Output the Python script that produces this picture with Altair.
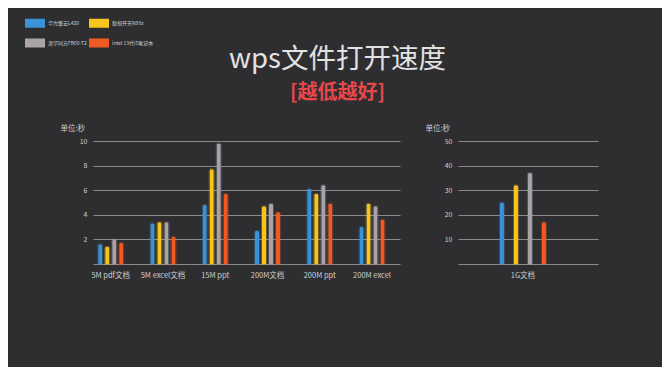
import altair as alt
import pandas as pd

categories = ["5M pdf文档", "5M excel文档", "15M ppt", "200M文档", "200M ppt", "200M excel"]
series = ["华为擎云L420", "联想开天N80z", "清华同方FB60-T2", "intel 13代i5笔记本"]
colors = ["#3a93d6", "#f7c51e", "#aaa3a8", "#f15a22"]

huawei = [1.6, 3.3, 4.8, 2.7, 6.1, 3.0]
lenovo = [1.4, 3.4, 7.7, 4.7, 5.7, 4.9]
tongfang = [2.0, 3.4, 9.8, 4.9, 6.4, 4.7]
intel = [1.7, 2.2, 5.7, 4.2, 4.9, 3.6]

big_categories = ["1G文档"]
big_huawei = [25]
big_lenovo = [32]
big_tongfang = [37]
big_intel = [17]

left_ticks = [0, 2, 4, 6, 8, 10]
right_ticks = [0, 10, 20, 30, 40, 50]


def long_table(cats, cols):
    rows = []
    for i, c in enumerate(cats):
        for s, vals in zip(series, cols):
            rows.append({"cat": c, "series": s, "value": vals[i]})
    return pd.DataFrame(rows)


df_small = long_table(categories, [huawei, lenovo, tongfang, intel])
df_big = long_table(big_categories, [big_huawei, big_lenovo, big_tongfang, big_intel])

FONT = "Noto Sans CJK SC"
LABEL = "#cfcfcf"
GRID = "#8a8a8a"


def y_axis(ticks):
    return alt.Axis(
        values=ticks,
        labelExpr="datum.value == 0 ? '' : datum.label",
        title="单位:秒",
        titleAngle=0,
        titleX=-33,
        titleY=-11,
        titleAlign="left",
        titleBaseline="alphabetic",
        titleFontSize=7.5,
        titleFontWeight="normal",
        titleColor=LABEL,
        titleFont=FONT,
        labelFontSize=7,
        labelColor=LABEL,
        labelFont=FONT,
        labelPadding=6,
        ticks=False,
        domain=False,
        grid=True,
        gridColor=GRID,
        gridWidth=1,
    )


def x_axis():
    return alt.Axis(
        title=None,
        labelAngle=0,
        ticks=False,
        domain=False,
        labelPadding=7,
        labelFontSize=7.5,
        labelColor=LABEL,
        labelFont=FONT,
    )


def bars(df, cats, ticks, dom, xscale, width, with_legend):
    if with_legend:
        legend = alt.Legend(
            title=None,
            orient="none",
            legendX=-68,
            legendY=-128,
            columns=2,
            direction="horizontal",
            symbolType="M-1,-0.45H1V0.45H-1Z",
            symbolSize=400,
            symbolStrokeWidth=0,
            labelFontSize=5,
            labelColor=LABEL,
            labelFont=FONT,
            labelOffset=3,
            columnPadding=2,
            rowPadding=5,
        )
    else:
        legend = None
    return alt.Chart(df).mark_bar(
        width=4,
        cornerRadiusTopLeft=2,
        cornerRadiusTopRight=2,
        strokeWidth=2,
        strokeOpacity=0.3,
    ).encode(
        x=alt.X("cat:N", sort=cats, scale=xscale, axis=x_axis()),
        xOffset=alt.XOffset("series:N", sort=series),
        y=alt.Y("value:Q", scale=alt.Scale(domain=dom), axis=y_axis(ticks)),
        color=alt.Color("series:N", sort=series,
                        scale=alt.Scale(domain=series, range=colors), legend=legend),
        stroke=alt.Stroke("series:N", sort=series,
                          scale=alt.Scale(domain=series, range=colors), legend=None),
    ).properties(width=width, height=123)


left = bars(df_small, categories, left_ticks, [0, 10],
            alt.Scale(paddingInner=0.464, paddingOuter=0.169, align=0.21), 307, True)
right = bars(df_big, big_categories, right_ticks, [0, 50],
             alt.Scale(paddingInner=0, paddingOuter=0.75, align=0.44), 140, False)

chart = alt.hconcat(left, right, spacing=58, bounds="flush").resolve_scale(
    color="independent", stroke="independent", xOffset="independent"
).properties(
    title=alt.TitleParams(
        "wps文件打开速度",
        subtitle="[越低越好]",
        font=FONT,
        fontSize=27.5,
        fontWeight="normal",
        color="#e2e2e2",
        subtitleFont=FONT,
        subtitleFontSize=20,
        subtitleFontWeight="bold",
        subtitleColor="#e8474b",
        subtitlePadding=10,
        anchor="middle",
        dx=26,
        offset=-90,
    ),
    background="#2e2e31",
    padding={"left": 17, "top": 5, "right": 64, "bottom": 88},
).configure_view(stroke=None)

chart.save("out.html", embed_options={"renderer": "svg", "actions": False})
